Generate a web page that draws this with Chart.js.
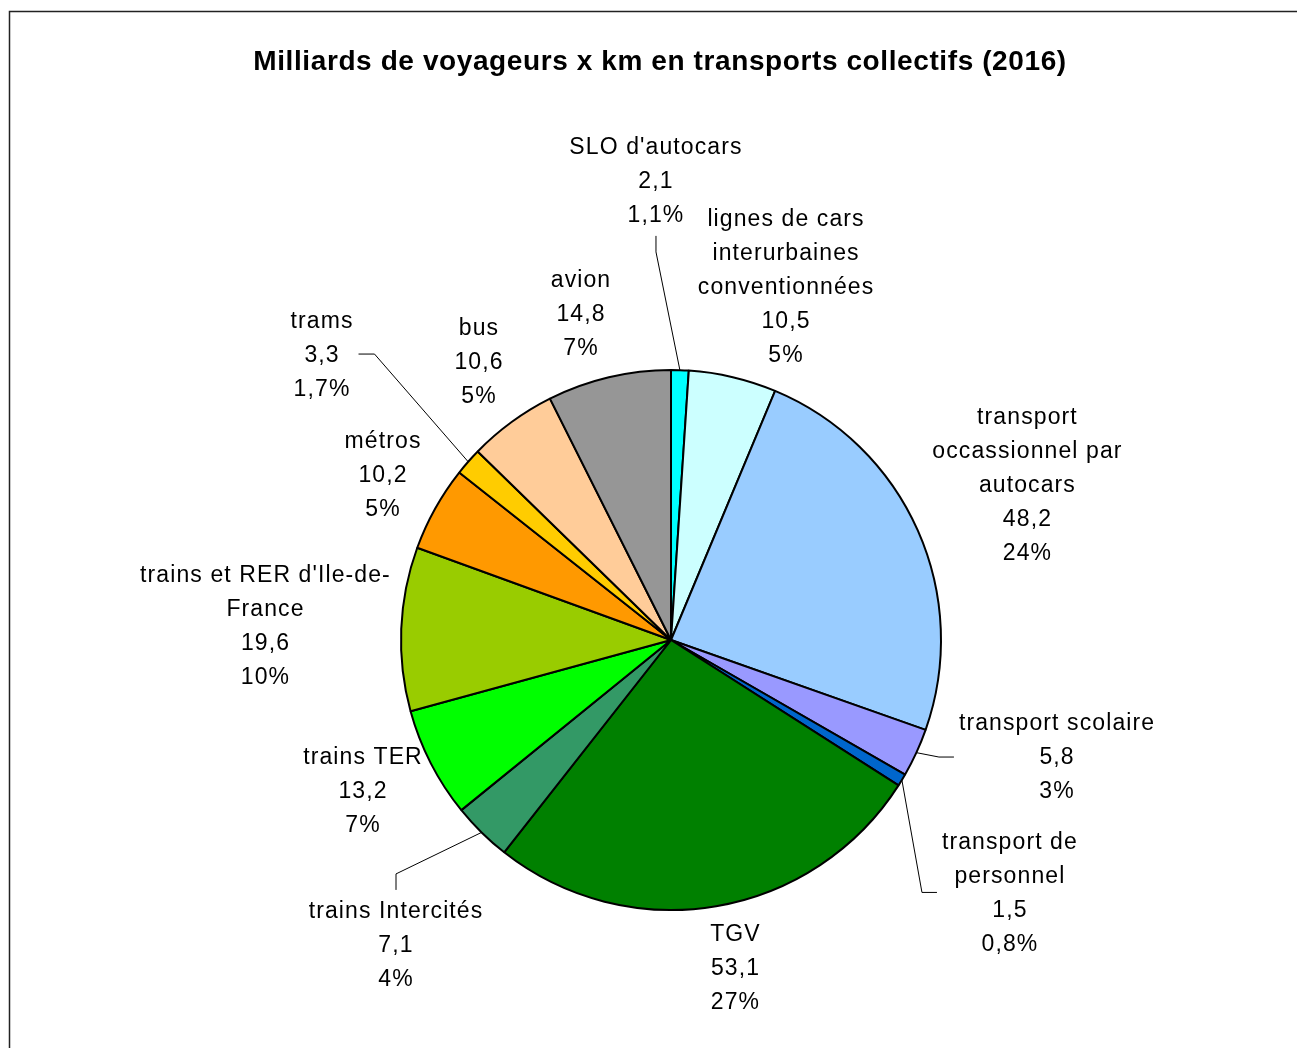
<!DOCTYPE html>
<html lang="fr">
<head>
<meta charset="utf-8">
<title>Transports collectifs 2016</title>
<script src="https://cdn.jsdelivr.net/npm/chart.js@4.4.1/dist/chart.umd.min.js"></script>
<style>
html, body { margin: 0; padding: 0; background: #fff; }
canvas { display: block; }
</style>
</head>
<body>
<canvas id="graphiqueCamembert" width="1297" height="1048"></canvas>
<script>
const titre = 'Milliards de voyageurs x km en transports collectifs (2016)';

// Catégories, dans le sens des aiguilles d'une montre depuis midi
const categories = [
  "SLO d'autocars",
  'lignes de cars\ninterurbaines\nconventionnées',
  'transport\noccassionnel par\nautocars',
  'transport scolaire',
  'transport de\npersonnel',
  'TGV',
  'trains Intercités',
  'trains TER',
  "trains et RER d'Ile-de-\nFrance",
  'métros',
  'trams',
  'bus',
  'avion'
];

// Milliards de voyageurs x km
const valeurs = [2.1, 10.5, 48.2, 5.8, 1.5, 53.1, 7.1, 13.2, 19.6, 10.2, 3.3, 10.6, 14.8];

const pourcentages = ['1,1%', '5%', '24%', '3%', '0,8%', '27%', '4%', '7%', '10%', '5%', '1,7%', '5%', '7%'];

const couleurs = [
  '#00FFFF', '#CCFFFF', '#99CCFF', '#9999FF', '#0066CC', '#008000', '#339966',
  '#00FF00', '#99CC00', '#FF9900', '#FFCC00', '#FFCC99', '#969696'
];

// placement des étiquettes : distance (en rayons), décalage d'angle (degrés), côté du trait de renvoi
const placementEtiquettes = [
  { distance: 1.705, angle: -3.76, renvoi: 'bas' },
  { distance: 1.379, angle: 4.77 },
  { distance: 1.441, angle: 0.31 },
  { distance: 1.493, angle: -7.93, renvoi: 'gauche' },
  { distance: 1.563, angle: 5.34, renvoi: 'gauche' },
  { distance: 1.234, angle: -1.53 },
  { distance: 1.518, angle: -2.41, renvoi: 'haut' },
  { distance: 1.269, angle: 1.21 },
  { distance: 1.503, angle: -0.22 },
  { distance: 1.231, angle: 0.8 },
  { distance: 1.671, angle: -1.98, renvoi: 'droite' },
  { distance: 1.254, angle: 1.64 },
  { distance: 1.256, angle: -2.07 }
];

function formatValeur(v) {
  return v.toFixed(1).replace('.', ',');
}

// cadre + titre
const cadreEtTitre = {
  id: 'cadreEtTitre',
  beforeDraw(chart) {
    const ctx = chart.ctx;
    ctx.save();
    ctx.fillStyle = '#fff';
    ctx.fillRect(0, 0, chart.width, chart.height);
    ctx.strokeStyle = '#222';
    ctx.lineWidth = 1.5;
    ctx.beginPath();
    ctx.moveTo(9.5, chart.height);
    ctx.lineTo(9.5, 11.5);
    ctx.lineTo(chart.width, 11.5);
    ctx.stroke();
    ctx.font = 'bold 28px "Liberation Sans", Arial, sans-serif';
    ctx.letterSpacing = '0.6px';
    ctx.fillStyle = '#000';
    ctx.textAlign = 'center';
    ctx.textBaseline = 'alphabetic';
    ctx.fillText(titre, 660, 70);
    ctx.restore();
  }
};

// étiquettes (nom, valeur, pourcentage) avec traits de renvoi
const etiquettes = {
  id: 'etiquettes',
  afterDatasetsDraw(chart) {
    const ctx = chart.ctx;
    const meta = chart.getDatasetMeta(0);
    const interligne = 34;
    ctx.save();
    ctx.font = '23px "Liberation Sans", Arial, sans-serif';
    ctx.letterSpacing = '1.1px';
    ctx.fillStyle = '#000';
    ctx.strokeStyle = '#000';
    ctx.lineWidth = 1;
    ctx.textAlign = 'center';
    ctx.textBaseline = 'middle';
    meta.data.forEach((arc, i) => {
      const { x, y, startAngle, endAngle, outerRadius } =
        arc.getProps(['x', 'y', 'startAngle', 'endAngle', 'outerRadius'], true);
      const milieu = (startAngle + endAngle) / 2;
      const p = placementEtiquettes[i];
      const a = milieu + p.angle * Math.PI / 180;
      const cx = x + Math.cos(a) * outerRadius * p.distance;
      const cy = y + Math.sin(a) * outerRadius * p.distance;
      const lignes = [...categories[i].split('\n'), formatValeur(valeurs[i]), pourcentages[i]];
      const largeur = Math.max(...lignes.map(l => ctx.measureText(l).width));
      const demiH = lignes.length * interligne / 2;
      const demiL = largeur / 2;
      lignes.forEach((l, k) => ctx.fillText(l, cx, cy + 2 - demiH + interligne * (k + 0.5)));

      if (p.renvoi) {
        const ax = x + Math.cos(milieu) * outerRadius;
        const ay = y + Math.sin(milieu) * outerRadius;
        let t0, t1;
        if (p.renvoi === 'bas') { t0 = [cx, cy + demiH + 5]; t1 = [cx, cy + demiH + 21]; }
        if (p.renvoi === 'haut') { t0 = [cx, cy - demiH - 3]; t1 = [cx, cy - demiH - 19]; }
        if (p.renvoi === 'gauche') { t0 = [cx - demiL - 5, cy + 1]; t1 = [cx - demiL - 20, cy + 1]; }
        if (p.renvoi === 'droite') { t0 = [cx + demiL + 5, cy]; t1 = [cx + demiL + 21, cy]; }
        ctx.beginPath();
        ctx.moveTo(t0[0], t0[1]);
        ctx.lineTo(t1[0], t1[1]);
        ctx.lineTo(ax, ay);
        ctx.stroke();
      }
    });
    ctx.restore();
  }
};

new Chart(document.getElementById('graphiqueCamembert'), {
  type: 'pie',
  data: {
    labels: categories,
    datasets: [{
      data: valeurs,
      backgroundColor: couleurs,
      borderColor: '#000',
      borderWidth: 2
    }]
  },
  options: {
    responsive: false,
    devicePixelRatio: 1,
    animation: false,
    layout: {
      padding: { top: 369, bottom: 137, left: 400, right: 355 }
    },
    plugins: {
      legend: { display: false },
      tooltip: { enabled: false },
      title: { display: false }
    }
  },
  plugins: [cadreEtTitre, etiquettes]
});
</script>
</body>
</html>
